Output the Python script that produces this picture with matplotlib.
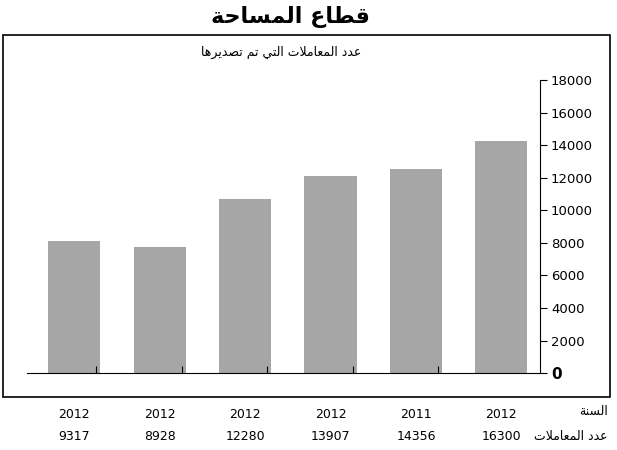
import matplotlib
matplotlib.use("Agg")
import matplotlib.pyplot as plt
from matplotlib.patches import Rectangle
import matplotlib.transforms as mtransforms

years = ["2012", "2012", "2012", "2012", "2011", "2012"]
counts = ["9317", "8928", "12280", "13907", "14356", "16300"]
bar_values = [8100, 7750, 10700, 12100, 12550, 14250]
yticks = list(range(0, 18001, 2000))

title = "قطاع المساحة"
subtitle = "عدد المعاملات التي تم تصديرها"
row_year = "السنة"
row_count = "عدد المعاملات"

FORMS = {
    'ا': (0xFE8D, 0xFE8E, None, None), 'ت': (0xFE95, 0xFE96, 0xFE97, 0xFE98),
    'ة': (0xFE93, 0xFE94, None, None), 'ح': (0xFEA1, 0xFEA2, 0xFEA3, 0xFEA4),
    'د': (0xFEA9, 0xFEAA, None, None), 'ر': (0xFEAD, 0xFEAE, None, None),
    'س': (0xFEB1, 0xFEB2, 0xFEB3, 0xFEB4), 'ص': (0xFEB9, 0xFEBA, 0xFEBB, 0xFEBC),
    'ط': (0xFEC1, 0xFEC2, 0xFEC3, 0xFEC4), 'ع': (0xFEC9, 0xFECA, 0xFECB, 0xFECC),
    'ق': (0xFED5, 0xFED6, 0xFED7, 0xFED8), 'ل': (0xFEDD, 0xFEDE, 0xFEDF, 0xFEE0),
    'م': (0xFEE1, 0xFEE2, 0xFEE3, 0xFEE4), 'ن': (0xFEE5, 0xFEE6, 0xFEE7, 0xFEE8),
    'ه': (0xFEE9, 0xFEEA, 0xFEEB, 0xFEEC), 'ي': (0xFEF1, 0xFEF2, 0xFEF3, 0xFEF4),
    'ﻻ': (0xFEFB, 0xFEFC, None, None),
}


def shape(s):
    s = s.replace('لا', 'ﻻ')
    out = []
    for i, c in enumerate(s):
        if c not in FORMS:
            out.append(c)
            continue
        prev = s[i - 1] if i > 0 else ''
        nxt = s[i + 1] if i + 1 < len(s) else ''
        jp = prev in FORMS and FORMS[prev][2] is not None
        jn = FORMS[c][2] is not None and nxt in FORMS
        f = FORMS[c]
        if jp and jn:
            code = f[3]
        elif jp:
            code = f[1]
        elif jn:
            code = f[2]
        else:
            code = f[0]
        out.append(chr(code))
    return ''.join(out)[::-1]


plt.rcParams['font.family'] = ['DejaVu Sans']
fig = plt.figure(figsize=(6.17, 4.5), dpi=100)
fig.patches.append(Rectangle((0.005, 0.118), 0.984, 0.804, transform=fig.transFigure,
                             fill=False, edgecolor='black', linewidth=1.2))
fig.text(0.47, 0.962, shape(title), ha='center', va='center', fontsize=16, fontweight='bold')
fig.text(0.455, 0.884, shape(subtitle), ha='center', va='center', fontsize=9)

ax = fig.add_axes([0.044, 0.171, 0.831, 0.651])
x = list(range(len(bar_values)))
ax.bar(x, bar_values, width=0.61, color='#a6a6a6')
ax.set_xlim(-0.55, 5.45)
ax.set_ylim(0, 18000)
for s in ['left', 'top']:
    ax.spines[s].set_visible(False)
ax.yaxis.tick_right()
ax.set_yticks(yticks)
labels = ax.set_yticklabels([str(v) for v in yticks], fontsize=9.5)
labels[0].set_fontweight('bold')
labels[0].set_fontsize(11)
ax.tick_params(axis='y', direction='out', length=5, pad=3)
ax.set_xticks([0.26 + i for i in range(5)])
ax.set_xticklabels([])
ax.tick_params(axis='x', direction='in', length=5)
ax.patch.set_alpha(0)

tr = mtransforms.blended_transform_factory(ax.transData, fig.transFigure)
for i in range(len(years)):
    ax.text(i, 0.078, years[i], transform=tr, ha='center', va='center', fontsize=9)
    ax.text(i, 0.029, counts[i], transform=tr, ha='center', va='center', fontsize=9)
fig.text(0.985, 0.085, shape(row_year), ha='right', va='center', fontsize=9)
fig.text(0.985, 0.029, shape(row_count), ha='right', va='center', fontsize=9)

fig.savefig('out.png', dpi=100)
